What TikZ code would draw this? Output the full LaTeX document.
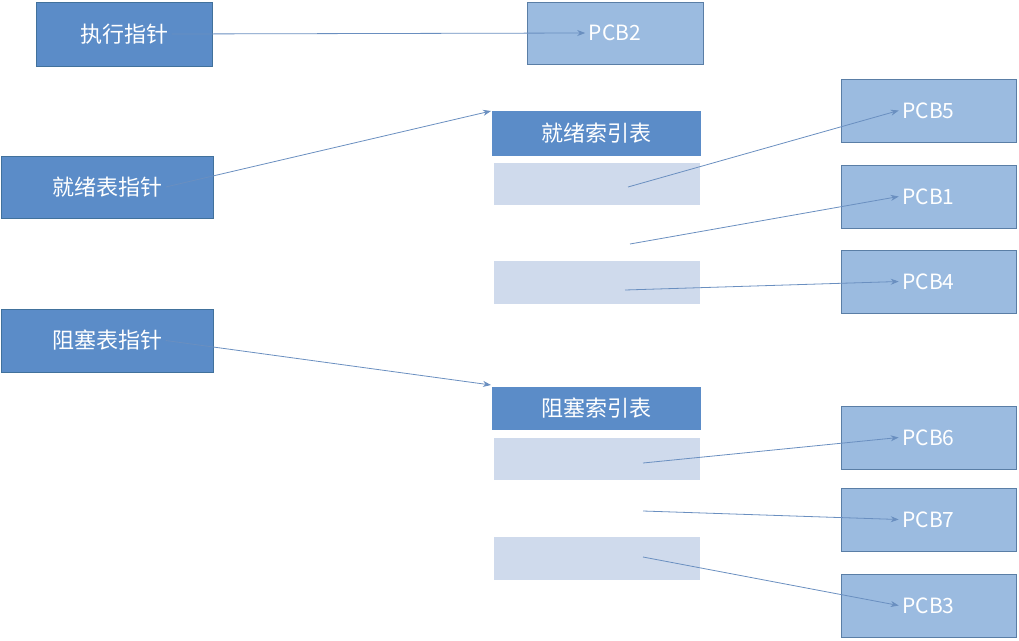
\documentclass[tikz,border=0pt]{standalone}
\usepackage{fontspec}
\setmainfont{Noto Sans CJK SC}
\usetikzlibrary{arrows.meta}
\definecolor{dk}{HTML}{5B8CC8}
\definecolor{dkb}{HTML}{41719C}
\definecolor{pcb}{HTML}{9BBBE0}
\definecolor{pcbb}{HTML}{5A7EA6}
\definecolor{row}{HTML}{CFDAEC}
\definecolor{arr}{HTML}{6A8FC0}
\begin{document}
\begin{tikzpicture}[x=1pt,y=-1pt,
  ptr/.style={fill=dk,draw=dkb,line width=0.8pt,text=white,font=\fontsize{22}{24}\selectfont},
  hdr/.style={fill=dk,text=white,font=\fontsize{22}{24}\selectfont},
  pcbs/.style={fill=pcb,draw=pcbb,line width=0.8pt,text=white,font=\fontsize{21}{24}\selectfont},
  rw/.style={fill=row},
  ar/.style={draw=arr,line width=0.8pt,-{Stealth[length=8pt,width=6pt]}}]
\useasboundingbox (0,0) rectangle (1019,640);
\newcommand\bx[6]{\path[#1] (#3,#4) rectangle (#5,#6) node[midway] (#2) {};}
\draw[ptr] (36,2) rectangle (212,66) node[midway] (zx) {执行指针};
\draw[ptr] (1,156) rectangle (213,218) node[midway] (jx) {就绪表指针};
\draw[ptr] (1,309) rectangle (213,372) node[midway] (zs) {阻塞表指针};
\fill[hdr] (492,111) rectangle (701,156) node[midway,text=white] (jh) {就绪索引表};
\fill[hdr] (492,387) rectangle (701,430) node[midway,text=white] (zh) {阻塞索引表};
\fill[rw] (494,163) rectangle (700,205);
\fill[rw] (494,261) rectangle (700,304);
\fill[rw] (494,438) rectangle (700,480);
\fill[rw] (494,537) rectangle (700,580);
\draw[pcbs] (527,2) rectangle (703,64) node[midway] (p2) {PCB2};
\draw[pcbs] (841,79) rectangle (1016,142) node[midway] (p5) {PCB5};
\draw[pcbs] (841,165) rectangle (1016,228) node[midway] (p1) {PCB1};
\draw[pcbs] (841,250) rectangle (1016,313) node[midway] (p4) {PCB4};
\draw[pcbs] (841,406) rectangle (1016,469) node[midway] (p6) {PCB6};
\draw[pcbs] (841,488) rectangle (1016,551) node[midway] (p7) {PCB7};
\draw[pcbs] (841,574) rectangle (1016,637) node[midway] (p3) {PCB3};
\coordinate (a1) at (628,187); \coordinate (a2) at (630,244); \coordinate (a3) at (625,290);
\coordinate (b1) at (643,463); \coordinate (b2) at (643,511); \coordinate (b3) at (643,557);
\coordinate (jt) at (491,111); \coordinate (zt) at (491,385);
\draw[ar] (zx.east) -- (p2.west);
\draw[ar] (jx.east) -- (jt);
\draw[ar] (zs.east) -- (zt);
\draw[ar] (a1) -- (p5.west);
\draw[ar] (a2) -- (p1.west);
\draw[ar] (a3) -- (p4.west);
\draw[ar] (b1) -- (p6.west);
\draw[ar] (b2) -- (p7.west);
\draw[ar] (b3) -- (p3.west);
\end{tikzpicture}
\end{document}
